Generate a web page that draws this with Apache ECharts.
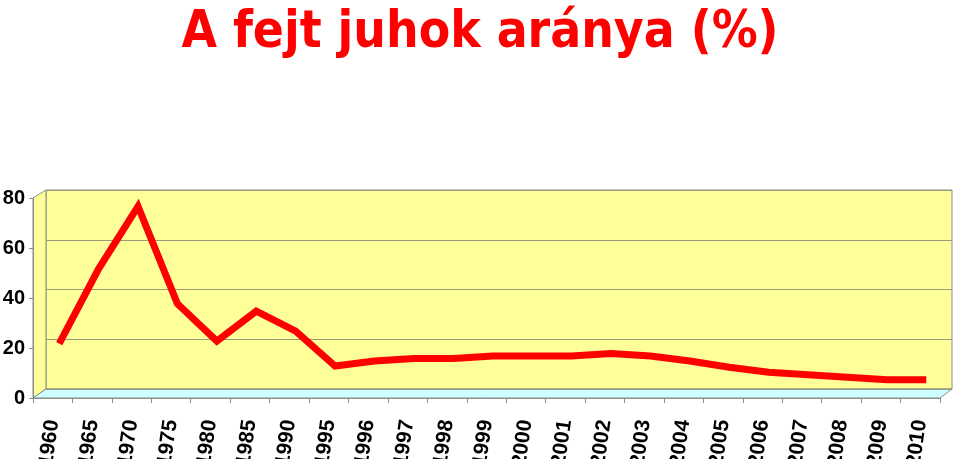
<!DOCTYPE html>
<html>
<head>
<meta charset="utf-8">
<script src="https://cdn.jsdelivr.net/npm/echarts@6/dist/echarts.min.js"></script>
<style>html,body{margin:0;padding:0;background:#fff}#c{width:960px;height:459px}</style>
</head>
<body>
<div id="c"></div>
<script>
var titleText = 'A fejt juhok aránya (%)';
var categories = ['1960','1965','1970','1975','1980','1985','1990','1995','1996','1997','1998','1999','2000','2001','2002','2003','2004','2005','2006','2007','2008','2009','2010'];
var shareValues = [20,50,75,36,21,33,25,11,13,14,14,15,15,15,16,15,13,10.5,8.5,7.5,6.5,5.5,5.5];
var yTicks = [0,20,40,60,80];

var chart = echarts.init(document.getElementById('c'));
var edge = '#8c8c8c';
chart.setOption({
  animation: false,
  backgroundColor: '#ffffff',
  title: {
    text: titleText, left: 'center', top: 3,
    textStyle: {fontFamily: '"DejaVu Sans Condensed","Liberation Sans",Arial', fontWeight: 'bold', fontSize: 51, color: '#ff0000'}
  },
  graphic: [
    {type: 'polygon', shape: {points: [[33,198],[46,190],[46,389],[33,398]]}, style: {fill: '#ffff99', stroke: edge, lineWidth: 1}, z: 0},
    {type: 'polygon', shape: {points: [[33,398],[46,389],[952,389],[940,398]]}, style: {fill: '#ccffff', stroke: edge, lineWidth: 1}, z: 0}
  ],
  grid: [
    {left: 46, right: 8, top: 190, height: 199, show: true, backgroundColor: '#ffff99', borderColor: edge, borderWidth: 1, containLabel: false, outerBoundsMode: 'none'},
    {left: 33, right: 20, top: 198, height: 200, containLabel: false, outerBoundsMode: 'none'},
    {left: 39.5, right: 14, top: 194, height: 199.5, containLabel: false, outerBoundsMode: 'none'}
  ],
  xAxis: [
    {gridIndex: 0, type: 'category', data: categories, show: false},
    {gridIndex: 1, type: 'category', data: categories, boundaryGap: true,
      axisLine: {show: true, lineStyle: {color: edge}},
      axisTick: {show: true, length: 5, lineStyle: {color: edge}, alignWithLabel: false},
      axisLabel: {interval: 0, rotate: 82, margin: 22, color: '#000', fontWeight: 'bold', fontSize: 21, fontFamily: 'Liberation Sans, Arial'}},
    {gridIndex: 2, type: 'category', data: categories, show: false}
  ],
  yAxis: [
    {gridIndex: 0, type: 'value', min: yTicks[0], max: yTicks[yTicks.length-1], interval: 20,
      axisLine: {show: false}, axisTick: {show: false}, axisLabel: {show: false},
      splitLine: {show: true, lineStyle: {color: '#9a9a7a', width: 1}}},
    {gridIndex: 1, type: 'value', min: yTicks[0], max: yTicks[yTicks.length-1], interval: 20,
      axisLine: {show: true, lineStyle: {color: edge}},
      axisTick: {show: true, length: 4, lineStyle: {color: edge}},
      axisLabel: {margin: 8, color: '#000', fontWeight: 'bold', fontSize: 20, fontFamily: 'Liberation Sans, Arial'},
      splitLine: {show: false}},
    {gridIndex: 2, type: 'value', min: 0, max: 80, show: false, splitLine: {show: false}}
  ],
  series: [{
    type: 'line', xAxisIndex: 2, yAxisIndex: 2, data: shareValues,
    showSymbol: false, symbol: 'none',
    lineStyle: {color: '#ff0000', width: 7, join: 'miter'},
    z: 5
  }]
});
</script>
</body>
</html>
